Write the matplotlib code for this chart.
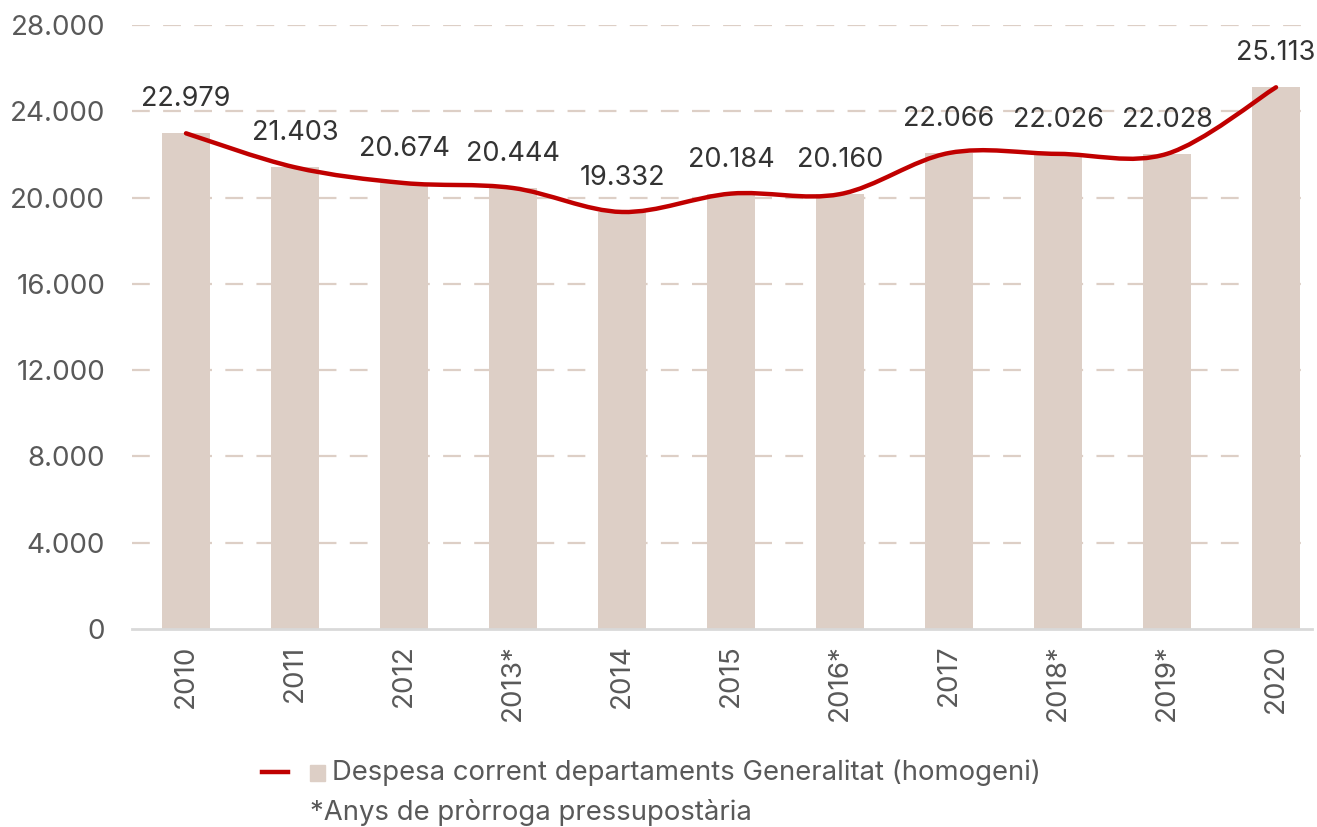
import matplotlib
matplotlib.use("Agg")
import matplotlib.pyplot as plt
from matplotlib.path import Path
from matplotlib.patches import PathPatch
from matplotlib.lines import Line2D
from matplotlib.patches import Rectangle

years = ["2010", "2011", "2012", "2013*", "2014", "2015", "2016*", "2017", "2018*", "2019*", "2020"]
values = [22979, 21403, 20674, 20444, 19332, 20184, 20160, 22066, 22026, 22028, 25113]
labels = ["22.979", "21.403", "20.674", "20.444", "19.332", "20.184", "20.160", "22.066", "22.026", "22.028", "25.113"]
yticks = [0, 4000, 8000, 12000, 16000, 20000, 24000, 28000]
ytick_labels = ["0", "4.000", "8.000", "12.000", "16.000", "20.000", "24.000", "28.000"]
legend_label = "Despesa corrent departaments Generalitat (homogeni)"
note = "*Anys de pròrroga pressupostària"

bar_color = "#DDCFC6"
line_color = "#C00000"
text_gray = "#595959"
label_dark = "#333333"

plt.rcParams['font.family'] = ['Inter', 'DejaVu Sans']
FW = "normal"

W, H = 1317, 827
fig = plt.figure(figsize=(W / 100, H / 100), dpi=100)
ax = fig.add_axes([131.5 / W, (H - 629) / H, (1312 - 131.5) / W, 604 / H])

x = list(range(len(years)))
ax.bar(x, values, width=0.435, color=bar_color, zorder=2)

# smoothed line (Catmull-Rom -> cubic Bezier)
pts = list(zip(x, values))
verts = [pts[0]]
codes = [Path.MOVETO]
n = len(pts)
for i in range(n - 1):
    p0 = pts[i - 1] if i > 0 else pts[i]
    p1 = pts[i]
    p2 = pts[i + 1]
    p3 = pts[i + 2] if i + 2 < n else pts[i + 1]
    t = 1 / 6
    c1 = (p1[0] + (p2[0] - p0[0]) * t, p1[1] + (p2[1] - p0[1]) * t)
    c2 = (p2[0] - (p3[0] - p1[0]) * t, p2[1] - (p3[1] - p1[1]) * t)
    verts += [c1, c2, p2]
    codes += [Path.CURVE4] * 3
ax.add_patch(PathPatch(Path(verts, codes), facecolor="none", edgecolor=line_color,
                       lw=3.2, zorder=3, capstyle="round"))

for xi, v, lab in zip(x, values, labels):
    ax.annotate(lab, (xi, v), xytext=(0, 21), textcoords="offset pixels",
                ha="center", va="bottom", fontsize=19.5, color=label_dark,
                fontweight=FW, zorder=4)

ax.set_xlim(-0.5, 10.33)
ax.set_ylim(0, 28000)
ax.set_yticks(yticks)
ax.set_yticklabels(ytick_labels, fontsize=20, color=text_gray, fontweight=FW)
ax.set_xticks(x)
ax.set_xticklabels(years, rotation=90, fontsize=20, color=text_gray, fontweight=FW)
ax.tick_params(axis="both", length=0)
ax.tick_params(axis="y", pad=19)
ax.tick_params(axis="x", pad=11)
for yt in yticks[1:]:
    ax.axhline(yt, color=bar_color, lw=1.6, dashes=(8, 6), zorder=1)
for s in ["top", "right", "left"]:
    ax.spines[s].set_visible(False)
ax.spines["bottom"].set_color("#D9D9D9")
ax.spines["bottom"].set_linewidth(2)
ax.spines["bottom"].set_zorder(5)

# legend
fig.add_artist(Line2D([262 / W, 288 / W], [1 - 772 / H, 1 - 772 / H], color=line_color, lw=3.2))
fig.add_artist(Rectangle((310 / W, 1 - 781 / H), 15 / W, 16 / H, color=bar_color))
fig.text(332 / W, 1 - 773 / H, legend_label, fontsize=19.8, color=text_gray, va="center",
         ha="left", fontweight=FW)
fig.text(310 / W, 1 - 812 / H, note, fontsize=19.8, color=text_gray, va="center", ha="left",
         fontweight=FW)

fig.savefig("out.png", dpi=100)
